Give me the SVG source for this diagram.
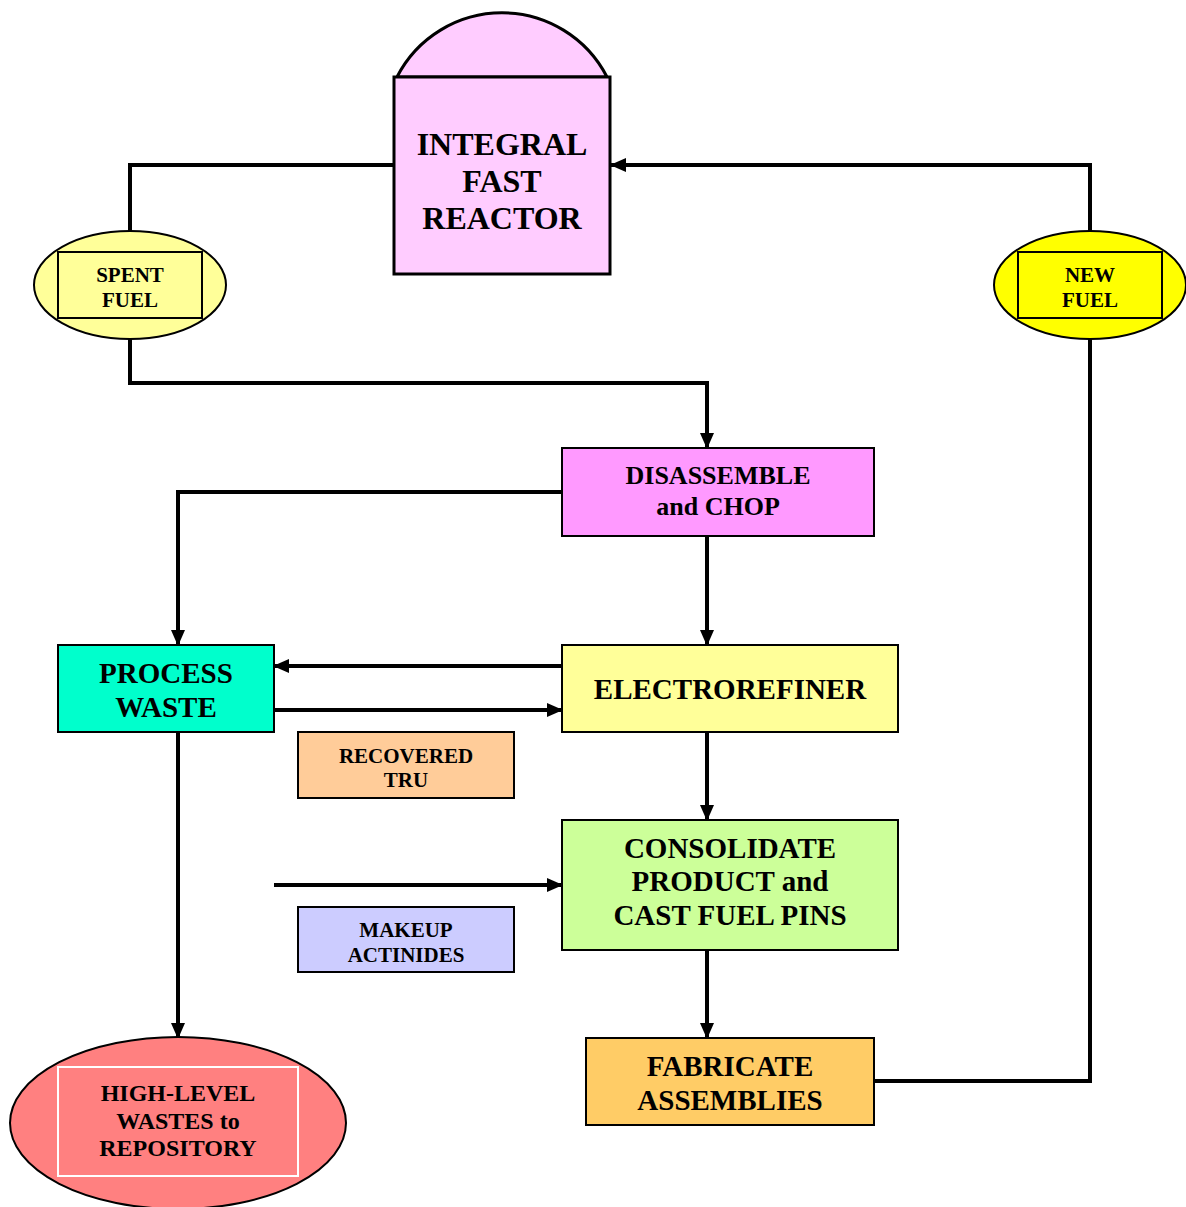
<svg xmlns="http://www.w3.org/2000/svg" width="1186" height="1207" viewBox="0 0 1186 1207">
<style>
text{font-family:"Liberation Serif","Times New Roman",serif;font-weight:bold;fill:#000;text-anchor:middle}
.box{stroke:#000;stroke-width:2}
.conn{fill:none;stroke:#000;stroke-width:4}
.t32{font-size:32px}.t29{font-size:29px}.t26{font-size:26px}.t24{font-size:24px}.t21{font-size:21px}
</style>
<defs>
<marker id="arr" markerUnits="userSpaceOnUse" markerWidth="16" markerHeight="14" refX="15" refY="7" orient="auto">
<path d="M0,0 L16,7 L0,14 Z" fill="#000"/>
</marker>
</defs>
<rect width="1186" height="1207" fill="#fff"/>
<g id="connectors">
<path class="conn" d="M394,165 H130 V231"/>
<path class="conn" d="M1090,231 V165 H611" marker-end="url(#arr)"/>
<path class="conn" d="M130,339 V383 H707 V448" marker-end="url(#arr)"/>
<path class="conn" d="M562,492 H178 V645" marker-end="url(#arr)"/>
<path class="conn" d="M707,536 V645" marker-end="url(#arr)"/>
<path class="conn" d="M562,666 H274" marker-end="url(#arr)"/>
<path class="conn" d="M274,710 H562" marker-end="url(#arr)"/>
<path class="conn" d="M707,732 V820" marker-end="url(#arr)"/>
<path class="conn" d="M274,885 H562" marker-end="url(#arr)"/>
<path class="conn" d="M707,950 V1038" marker-end="url(#arr)"/>
<path class="conn" d="M874,1081 H1090 V339"/>
<path class="conn" d="M178,732 V1038" marker-end="url(#arr)"/>
</g>
<g id="reactor">
<path d="M397,77 A118,118 0 0 1 607,77 Z" fill="#ffccff" stroke="#000" stroke-width="3"/>
<rect x="394" y="77" width="216" height="197" fill="#ffccff" stroke="#000" stroke-width="3"/>
<text class="t32" x="502" y="155">INTEGRAL</text>
<text class="t32" x="502" y="192">FAST</text>
<text class="t32" x="502" y="229">REACTOR</text>
</g>
<g id="spent-fuel">
<ellipse cx="130" cy="285" rx="96" ry="54" fill="#ffff99" class="box"/>
<rect x="58" y="252" width="144" height="66" fill="#ffff99" class="box"/>
<text class="t21" x="130" y="282">SPENT</text>
<text class="t21" x="130" y="307">FUEL</text>
</g>
<g id="new-fuel">
<ellipse cx="1090" cy="285" rx="96" ry="54" fill="#ffff00" class="box"/>
<rect x="1018" y="252" width="144" height="66" fill="#ffff00" class="box"/>
<text class="t21" x="1090" y="282">NEW</text>
<text class="t21" x="1090" y="307">FUEL</text>
</g>
<g id="disassemble">
<rect x="562" y="448" width="312" height="88" fill="#ff99ff" class="box"/>
<text class="t26" x="718" y="484">DISASSEMBLE</text>
<text class="t26" x="718" y="515">and CHOP</text>
</g>
<g id="process-waste">
<rect x="58" y="645" width="216" height="87" fill="#00ffcc" class="box"/>
<text class="t29" x="166" y="683">PROCESS</text>
<text class="t29" x="166" y="717">WASTE</text>
</g>
<g id="electrorefiner">
<rect x="562" y="645" width="336" height="87" fill="#ffff99" class="box"/>
<text class="t29" x="730" y="699">ELECTROREFINER</text>
</g>
<g id="recovered-tru">
<rect x="298" y="732" width="216" height="66" fill="#ffcc99" class="box"/>
<text class="t21" x="406" y="763">RECOVERED</text>
<text class="t21" x="406" y="787">TRU</text>
</g>
<g id="consolidate">
<rect x="562" y="820" width="336" height="130" fill="#ccff99" class="box"/>
<text class="t29" x="730" y="858">CONSOLIDATE</text>
<text class="t29" x="730" y="891">PRODUCT and</text>
<text class="t29" x="730" y="925">CAST FUEL PINS</text>
</g>
<g id="makeup-actinides">
<rect x="298" y="907" width="216" height="65" fill="#ccccff" class="box"/>
<text class="t21" x="406" y="937">MAKEUP</text>
<text class="t21" x="406" y="962">ACTINIDES</text>
</g>
<g id="fabricate">
<rect x="586" y="1038" width="288" height="87" fill="#ffcc66" class="box"/>
<text class="t29" x="730" y="1076">FABRICATE</text>
<text class="t29" x="730" y="1110">ASSEMBLIES</text>
</g>
<g id="high-level-wastes">
<ellipse cx="178" cy="1123" rx="168" ry="86" fill="#ff8080" class="box"/>
<rect x="58" y="1067" width="240" height="109" fill="#ff8080" stroke="#fff" stroke-width="2"/>
<text class="t24" x="178" y="1101">HIGH-LEVEL</text>
<text class="t24" x="178" y="1129">WASTES to</text>
<text class="t24" x="178" y="1156">REPOSITORY</text>
</g>
</svg>
